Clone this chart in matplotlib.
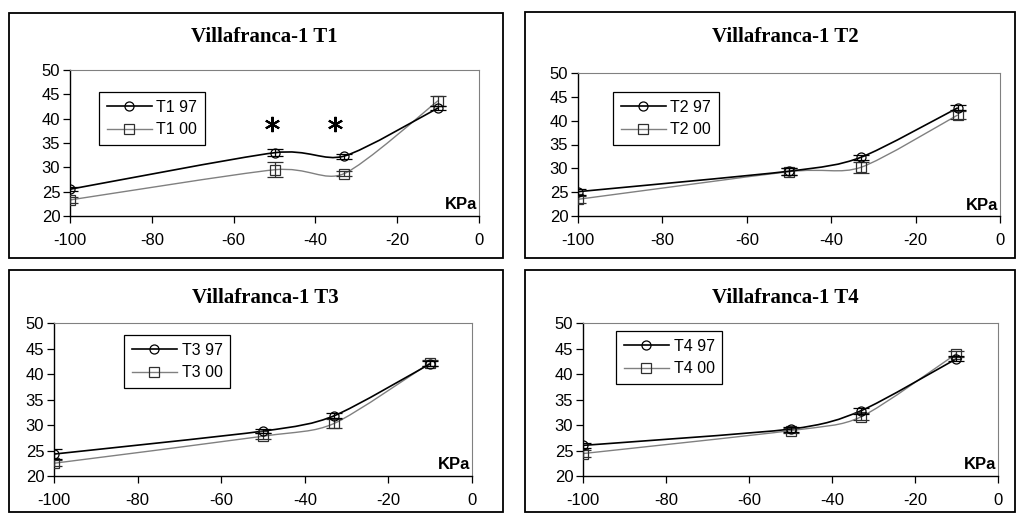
import numpy as np
import matplotlib
matplotlib.use("Agg")
import matplotlib.pyplot as plt
from matplotlib.path import Path
from matplotlib.patches import PathPatch, Rectangle
from matplotlib.lines import Line2D

plt.rcParams['font.family'] = 'Liberation Sans'
plt.rcParams['axes.unicode_minus'] = False

kpa = [-100, -50, -33, -10]

titles = ["Villafranca-1 T1", "Villafranca-1 T2", "Villafranca-1 T3", "Villafranca-1 T4"]
labels_97 = ["T1 97", "T2 97", "T3 97", "T4 97"]
labels_00 = ["T1 00", "T2 00", "T3 00", "T4 00"]

t1_97 = [25.5, 33.0, 32.3, 42.2]
t1_97_err = [0.4, 0.7, 0.5, 0.4]
t1_00 = [23.3, 29.5, 28.7, 43.7]
t1_00_err = [0.6, 1.5, 0.5, 1.0]

t2_97 = [25.1, 29.4, 32.3, 42.7]
t2_97_err = [0.6, 0.7, 0.6, 0.5]
t2_00 = [23.5, 29.3, 30.2, 41.2]
t2_00_err = [0.7, 0.8, 1.1, 0.8]

t3_97 = [24.3, 28.8, 31.8, 42.0]
t3_97_err = [0.9, 0.4, 0.5, 0.5]
t3_00 = [22.5, 27.8, 30.3, 42.2]
t3_00_err = [0.6, 0.6, 0.8, 0.6]

t4_97 = [26.0, 29.2, 32.8, 43.0]
t4_97_err = [0.5, 0.5, 0.6, 0.5]
t4_00 = [24.4, 28.9, 31.6, 44.0]
t4_00_err = [0.7, 0.5, 0.7, 0.6]

# asterisks marking significant differences in T1
star_x = [-50.6, -35.2]
star_y = [38.9, 38.9]

series_97 = [t1_97, t2_97, t3_97, t4_97]
err_97 = [t1_97_err, t2_97_err, t3_97_err, t4_97_err]
series_00 = [t1_00, t2_00, t3_00, t4_00]
err_00 = [t1_00_err, t2_00_err, t3_00_err, t4_00_err]

W, H = 1019, 514

# axes rectangles in pixels: left, right, top, bottom
ax_px = [(70, 479, 70, 216), (578, 1000, 73, 216), (54, 472, 323, 476), (583, 998, 323, 476)]
frame_px = [(9, 503, 13, 258), (525, 1015, 12, 258), (9, 503, 270, 512), (525, 1015, 270, 512)]
title_px = [(264, 37), (785, 37), (265, 298), (785, 298)]
legend_px = [(99, 92), (613, 92), (124, 335), (616, 331)]


def smooth_path(xs, ys, k=8):
    # excel-like smoothed line drawn as cubic bezier segments
    pts = np.column_stack([xs, ys]).astype(float)
    ext = np.vstack([pts[0], pts, pts[-1]])
    verts = [pts[0]]
    codes = [Path.MOVETO]
    for i in range(len(pts) - 1):
        p0, p1, p2, p3 = ext[i], ext[i + 1], ext[i + 2], ext[i + 3]
        c1 = p1 + (p2 - p0) / k
        c2 = p2 - (p3 - p1) / k
        verts += [c1, c2, p2]
        codes += [Path.CURVE4] * 3
    return Path(verts, codes)


fig = plt.figure(figsize=(W / 100, H / 100), dpi=100)

for k in range(4):
    l, r, t, b = frame_px[k]
    fig.patches.append(Rectangle((l / W, 1 - b / H), (r - l) / W, (b - t) / H,
                                 transform=fig.transFigure, fill=False,
                                 edgecolor='black', linewidth=1.3))

    l, r, t, b = ax_px[k]
    ax = fig.add_axes([l / W, 1 - b / H, (r - l) / W, (b - t) / H])

    ax.add_patch(PathPatch(smooth_path(kpa, series_00[k]), fill=False,
                           edgecolor='#808080', linewidth=1.0))
    ax.add_patch(PathPatch(smooth_path(kpa, series_97[k]), fill=False,
                           edgecolor='black', linewidth=1.2))
    ax.errorbar(kpa, series_00[k], yerr=err_00[k], fmt='s', mfc='none',
                mec='#303030', ecolor='#303030', ms=6.5, mew=0.9,
                capsize=5.5, elinewidth=0.9, zorder=3)
    ax.errorbar(kpa, series_97[k], yerr=err_97[k], fmt='o', mfc='none',
                mec='black', ecolor='black', ms=6.5, mew=0.9,
                capsize=5.5, elinewidth=0.9, zorder=4)

    if k == 0:
        ax.plot(star_x, star_y, ls='none', marker=(6, 2, 0), ms=11,
                mew=1.5, color='black')

    ax.set_xlim(-100, 0)
    ax.set_ylim(20, 50)
    ax.set_xticks([-100, -80, -60, -40, -20, 0])
    ax.set_yticks([20, 25, 30, 35, 40, 45, 50])
    ax.tick_params(direction='out', length=5, width=0.9, labelsize=12,
                   colors='black')
    ax.tick_params(axis='x', pad=7)
    ax.tick_params(axis='y', pad=2)
    for side in ['top', 'right']:
        ax.spines[side].set_color('#808080')
    for side in ['left', 'bottom']:
        ax.spines[side].set_linewidth(1.0)

    ax.text(0.995, 0.045, 'KPa', transform=ax.transAxes, ha='right',
            va='baseline', fontsize=12, fontweight='bold')

    tx, ty = title_px[k]
    fig.text(tx / W, 1 - ty / H, titles[k], ha='center', va='center',
             fontsize=15, fontweight='bold', family='Liberation Serif')

    handles = [
        Line2D([], [], color='black', lw=1.2, marker='o', mfc='none',
               mec='black', ms=6.5, mew=0.9),
        Line2D([], [], color='#808080', lw=1.0, marker='s', mfc='none',
               mec='#303030', ms=6.5, mew=0.9),
    ]
    lx, ly = legend_px[k]
    leg = ax.legend(handles, [labels_97[k], labels_00[k]], loc='upper left',
                    bbox_to_anchor=(lx / W, 1 - ly / H),
                    bbox_transform=fig.transFigure, fontsize=11.5,
                    numpoints=1, handlelength=2.8, handletextpad=0.3,
                    labelspacing=0.45, borderpad=0.5, borderaxespad=0,
                    fancybox=False, framealpha=1)
    leg.get_frame().set_edgecolor('black')
    leg.get_frame().set_linewidth(0.9)

fig.savefig('out.png', dpi=100)
